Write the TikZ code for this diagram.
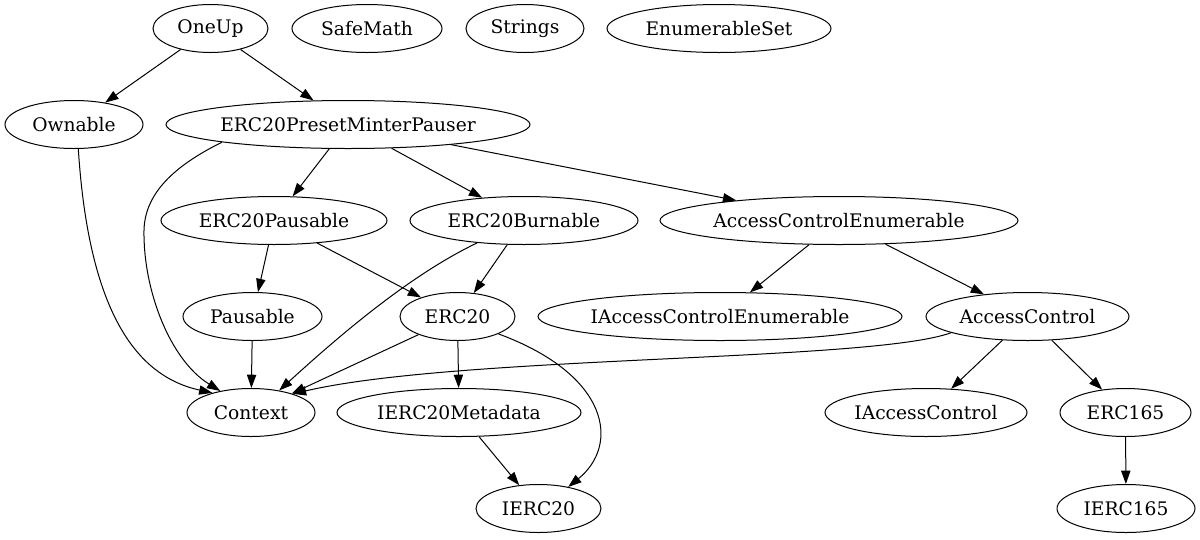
\documentclass[tikz,border=0pt]{standalone}
\usepackage{fontspec}
\setmainfont{DejaVu Serif}
\usetikzlibrary{shapes.geometric,arrows.meta}
\newcommand{\mb}[1]{\makebox[0pt]{#1}}
\tikzset{
  nd/.style={draw, ellipse, inner sep=0pt, minimum height=48pt, line width=1pt,
    font=\fontsize{18.67}{22}\selectfont},
  arr/.style={line width=1pt, -{Triangle[length=13.3pt,width=9.3pt]}}
}
\begin{document}
\begin{tikzpicture}[x=1pt,y=-1pt]
\useasboundingbox (0,0) rectangle (1200,539);
% rank 0
\node[nd, minimum width=115pt] (oneup) at (210.5,28.5) {\mb{OneUp}};
\node[nd, minimum width=150pt] (safemath) at (367,28.5) {\mb{SafeMath}};
\node[nd, minimum width=118pt] (strings) at (525,28.5) {\mb{Strings}};
\node[nd, minimum width=224pt] (enumset) at (719,28.5) {\mb{EnumerableSet}};
% rank 1
\node[nd, minimum width=138pt] (ownable) at (74,124.5) {\mb{Ownable}};
\node[nd, minimum width=364pt] (epmp) at (348,124.5) {\mb{ERC20PresetMinterPauser}};
% rank 2
\node[nd, minimum width=226pt] (erc20pausable) at (274,220.5) {\mb{ERC20Pausable}};
\node[nd, minimum width=228pt] (erc20burnable) at (524,220.5) {\mb{ERC20Burnable}};
\node[nd, minimum width=358pt] (ace) at (839,220.5) {\mb{AccessControlEnumerable}};
% rank 3
\node[nd, minimum width=139pt] (pausable) at (252.5,316.5) {\mb{Pausable}};
\node[nd, minimum width=115pt] (erc20) at (457.5,316.5) {\mb{ERC20}};
\node[nd, minimum width=364pt] (iace) at (720,316.5) {\mb{IAccessControlEnumerable}};
\node[nd, minimum width=203pt] (ac) at (1027.5,316.5) {\mb{AccessControl}};
% rank 4
\node[nd, minimum width=128pt] (context) at (251,412.5) {\mb{Context}};
\node[nd, minimum width=244pt] (ierc20meta) at (459,412.5) {\mb{IERC20Metadata}};
\node[nd, minimum width=202pt] (iac) at (926,412.5) {\mb{IAccessControl}};
\node[nd, minimum width=131pt] (erc165) at (1125.5,412.5) {\mb{ERC165}};
% rank 5
\node[nd, minimum width=125pt] (ierc20) at (538.5,508.5) {\mb{IERC20}};
\node[nd, minimum width=138pt] (ierc165) at (1126,508.5) {\mb{IERC165}};
% edges
\draw[arr] (oneup) -- (ownable);
\draw[arr] (oneup) -- (epmp);
\draw[arr] (ownable.-80.5) .. controls (88,300) and (130,375) .. (context.153);
\draw[arr] (epmp.188.7) .. controls (180,163) and (145,190) .. (144,230)
   .. controls (143,290) and (170,360) .. (context.145);
\draw[arr] (epmp) -- (erc20pausable);
\draw[arr] (epmp) -- (erc20burnable);
\draw[arr] (epmp) -- (ace);
\draw[arr] (erc20pausable) -- (pausable);
\draw[arr] (erc20pausable) -- (erc20);
\draw[arr] (erc20burnable) -- (erc20);
\draw[arr] (erc20burnable) .. controls (410,275) and (340,335) .. (context.38);
\draw[arr] (ace) -- (iace);
\draw[arr] (ace) -- (ac);
\draw[arr] (pausable) -- (context);
\draw[arr] (erc20) -- (context);
\draw[arr] (erc20) -- (ierc20meta);
\draw[arr] (erc20.-23) .. controls (610,375) and (620,445) .. (ierc20.36.9);
\draw[arr] (ac.192.3) .. controls (870,362) and (460,355) .. (context.24.2);
\draw[arr] (ac) -- (iac);
\draw[arr] (ac) -- (erc165);
\draw[arr] (ierc20meta) -- (ierc20);
\draw[arr] (erc165) -- (ierc165);
\end{tikzpicture}
\end{document}
